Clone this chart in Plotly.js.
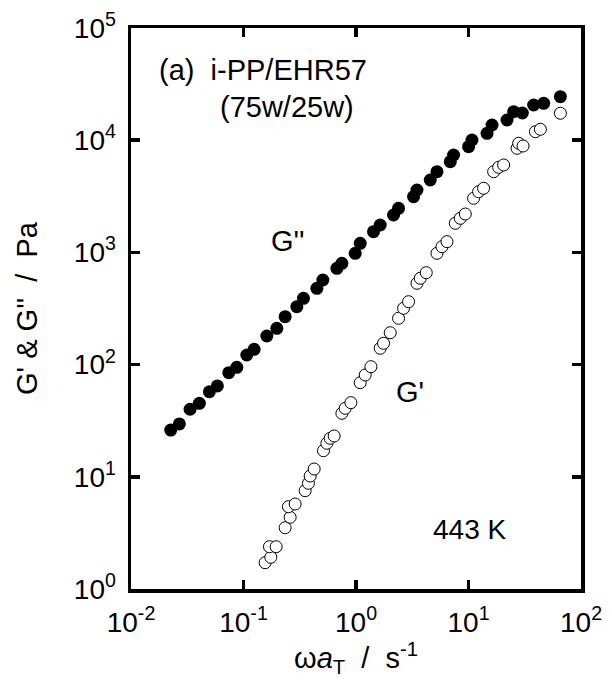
<!DOCTYPE html>
<html>
<head>
<meta charset="utf-8">
<script src="https://cdn.plot.ly/plotly-3.0.1.min.js"></script>
<style>html,body{margin:0;padding:0;background:#fff;}</style>
</head>
<body>
<div id="chart" style="width:612px;height:697px;"></div>
<script>
// G'' (loss modulus), filled circles
const gppOmega = [0.02255,0.02690,0.03350,0.04052,0.04973,0.05857,0.07399,0.08718,0.1070,0.1243,
  0.1612,0.1978,0.2345,0.2980,0.3411,0.4489,0.5075,0.6761,0.7490,0.9838,
  1.090,1.431,1.641,2.156,2.388,3.248,3.482,4.572,5.246,6.888,
  7.369,10.02,10.74,14.61,16.19,22.00,25.19,30.11,37.95,46.58,65.58];
const gppValue = [26.1,29.6,40.0,45.2,57.3,64.5,84.7,94.6,121.8,136.9,
  179.8,210.6,267.3,328.1,389.9,478.6,567.5,721.8,799.7,981.8,
  1205,1529,1755,2154,2472,3136,3598,4419,5240,6433,
  7382,8751,10040,11520,13660,15140,17950,17480,20590,21320,24430];

// G' (storage modulus), open circles
const gpOmega = [0.1557,0.1749,0.1700,0.1950,0.2345,0.2598,0.2509,0.2878,0.3532,0.3779,
  0.3913,0.4248,0.5139,0.5510,0.5895,0.6397,0.7490,0.8015,0.9007,1.090,
  1.207,1.357,1.641,1.757,2.015,2.388,2.647,2.932,3.482,3.726,
  4.212,5.246,5.810,6.437,7.630,8.453,9.365,11.10,12.30,13.62,
  16.73,18.52,20.53,27.01,27.91,30.54,39.30,43.55,65.58];
const gpValue = [1.716,1.917,2.382,2.382,3.518,4.356,5.413,5.722,7.518,8.752,
  10.16,11.73,17.08,19.89,22.03,23.10,36.81,40.77,45.75,68.99,
  80.79,95.79,139.8,154.8,192.4,258.6,317.5,363.6,530.5,587.8,
  659.4,981.8,1124,1246,1817,2013,2199,3035,3475,3727,
  5240,5734,6012,8470,9385,8877,11910,12510,17370];

const xTickVals = [0.01,0.1,1,10,100];
const xTickText = ['10<sup>-2</sup>','10<sup>-1</sup>','10<sup>0</sup>','10<sup>1</sup>','10<sup>2</sup>'];
const yTickVals = [1,10,100,1000,10000,100000];
const yTickText = ['10<sup>0</sup>','10<sup>1</sup>','10<sup>2</sup>','10<sup>3</sup>','10<sup>4</sup>','10<sup>5</sup>'];

const FONT = 'Liberation Sans, Arial, Helvetica, sans-serif';

const traces = [
  {x: gppOmega, y: gppValue, type: 'scatter', mode: 'markers', name: "G''",
   marker: {symbol: 'circle', size: 13, color: '#000', line: {width: 0}}},
  {x: gpOmega, y: gpValue, type: 'scatter', mode: 'markers', name: "G'",
   marker: {symbol: 'circle', size: 12, color: '#fff', line: {width: 1, color: '#000'}}}
];

const axisCommon = {
  type: 'log', showgrid: false, zeroline: false,
  showline: true, linewidth: 3.5, linecolor: '#000', mirror: 'ticks',
  ticks: 'inside', ticklen: 9, tickwidth: 3.5, tickcolor: '#000',
  tickmode: 'array',
  tickfont: {family: FONT, size: 28, color: '#000'}
};

const layout = {
  width: 612, height: 697,
  margin: {l: 131, r: 31, t: 28, b: 108},
  paper_bgcolor: '#fff', plot_bgcolor: '#fff',
  showlegend: false,
  font: {family: FONT, color: '#000'},
  xaxis: Object.assign({}, axisCommon, {
    range: [-2, 2], tickvals: xTickVals, ticktext: xTickText,
    ticklabelstandoff: 6,
    title: {text: 'ω<i>a</i><sub>T</sub>\u00a0\u00a0/\u00a0\u00a0s<sup>-1</sup>', font: {family: FONT, size: 29, color: '#000'}, standoff: 4}
  }),
  yaxis: Object.assign({}, axisCommon, {
    range: [0, 5], tickvals: yTickVals, ticktext: yTickText,
    ticklabelstandoff: 6,
    title: {text: "G'\u00a0&\u00a0G''\u00a0\u00a0/\u00a0\u00a0Pa", font: {family: FONT, size: 29, color: '#000'}, standoff: 28}
  }),
  annotations: [
    {xref: 'paper', yref: 'paper', x: 0.0578, y: 0.9248, xanchor: 'left', yanchor: 'middle', showarrow: false,
     text: '(a)\u00a0\u00a0i-PP/EHR57', font: {family: FONT, size: 29, color: '#000'}},
    {xref: 'paper', yref: 'paper', x: 0.1933, y: 0.8588, xanchor: 'left', yanchor: 'middle', showarrow: false,
     text: '(75w/25w)', font: {family: FONT, size: 29, color: '#000'}},
    {xref: 'paper', yref: 'paper', x: 0.349, y: 0.6199, xanchor: 'center', yanchor: 'middle', showarrow: false,
     text: "G''", font: {family: FONT, size: 29, color: '#000'}},
    {xref: 'paper', yref: 'paper', x: 0.62, y: 0.3508, xanchor: 'center', yanchor: 'middle', showarrow: false,
     text: "G'", font: {family: FONT, size: 29, color: '#000'}},
    {xref: 'paper', yref: 'paper', x: 0.7533, y: 0.1066, xanchor: 'center', yanchor: 'middle', showarrow: false,
     text: '443 K', font: {family: FONT, size: 28, color: '#000'}}
  ]
};

Plotly.newPlot('chart', traces, layout, {displayModeBar: false, staticPlot: true});
</script>
</body>
</html>
